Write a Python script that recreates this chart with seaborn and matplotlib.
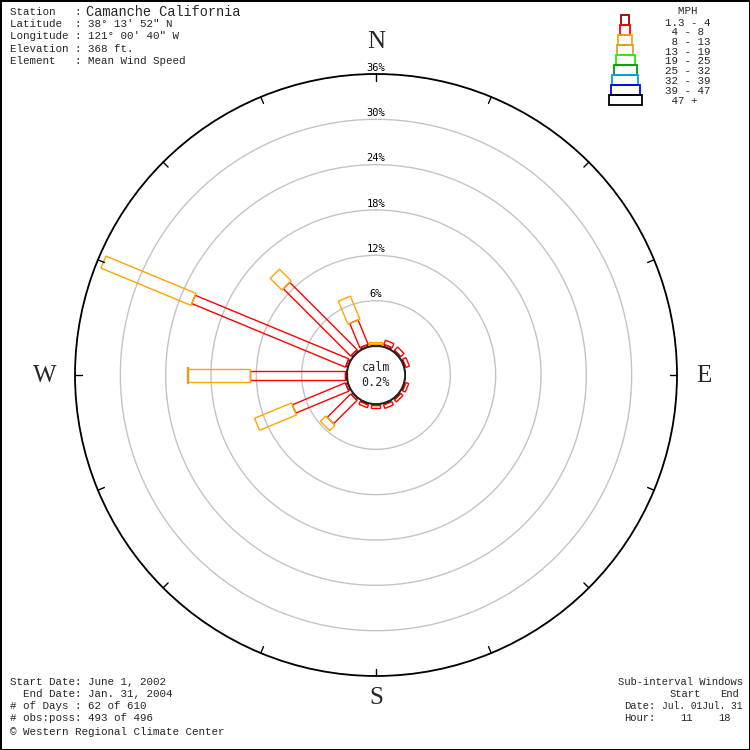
import numpy as np
import matplotlib
matplotlib.use("Agg")
import matplotlib.pyplot as plt
import seaborn as sns

# ---------------- data ----------------
directions = ['N', 'NNE', 'NE', 'ENE', 'E', 'ESE', 'SE', 'SSE',
              'S', 'SSW', 'SW', 'WSW', 'W', 'WNW', 'NW', 'NNW']
speed_bins = ['1.3 - 4', ' 4 - 8', ' 8 - 13', '13 - 19', '19 - 25',
              '25 - 32', '32 - 39', '39 - 47', ' 47 +']
# percent frequency per direction, one list per speed class
pct_1_4 = [0.1, 0.3, 0.2, 0.2, 0.0, 0.2, 0.2, 0.2, 0.1, 0.2, 0.3, 0.3, 0.3, 0.3, 0.3, 0.3]
pct_4_8 = [0.1, 0.6, 0.6, 0.5, 0.0, 0.4, 0.4, 0.5, 0.4, 0.4, 4.4, 7.6, 12.5, 22.0, 12.6, 3.5]
pct_8_13 = [0.3, 0.0, 0.0, 0.0, 0.0, 0.0, 0.0, 0.0, 0.0, 0.0, 1.0, 5.3, 8.2, 12.9, 2.2, 3.3]
pct_13_19 = [0.0] * 12 + [0.2, 0.0, 0.0, 0.0]
pct_19_25 = [0.0] * 16
pct_25_32 = [0.0] * 16
pct_32_39 = [0.0] * 16
pct_39_47 = [0.0] * 16
pct_47p = [0.0] * 16
calm_pct = 0.2
ring_ticks = [6, 12, 18, 24, 30, 36]

series = [pct_1_4, pct_4_8, pct_8_13, pct_13_19, pct_19_25,
          pct_25_32, pct_32_39, pct_39_47, pct_47p]

# ---------------- style ----------------
colors = ['#A00000', '#FF0000', '#FFA500', '#DAA520', '#22EE00',
          '#009E00', '#00A0F0', '#0000F0', '#000000']
bar_px = [7, 9, 13, 16, 19, 23, 26, 29, 33]       # bar widths in pixels
legend_px = [8, 10, 14, 16, 19, 23, 26, 29, 33]   # legend box widths

sns.set_theme(style='white')
plt.rcParams['font.family'] = ['DejaVu Sans Mono', 'DejaVu Sans']

W = H = 750
fig = plt.figure(figsize=(7.5, 7.5), dpi=100, facecolor='white',
                 edgecolor='black', linewidth=2)

cx, cy, R_out, R_calm = 376, 375, 301, 29
rmax = ring_ticks[-1]
a = R_calm * rmax / (R_out - R_calm)      # radial origin offset
scale = R_out / (rmax + a)                # pixels per data unit

ax = fig.add_axes([(cx - R_out) / W, (H - cy - R_out) / H, 2 * R_out / W, 2 * R_out / H],
                  projection='polar')
ax.set_theta_zero_location('N')
ax.set_theta_direction(-1)
ax.set_ylim(0, rmax)
ax.set_rorigin(-a)
ax.set_facecolor('white')
ax.set_yticks(ring_ticks)
ax.set_yticklabels([])
ax.set_xticks([])
ax.yaxis.grid(True, color='#C4C4C4', lw=1)
ax.xaxis.grid(False)
ax.spines['polar'].set_color('black')
ax.spines['polar'].set_linewidth(1.3)
if 'inner' in ax.spines:
    ax.spines['inner'].set_visible(False)

angles = np.deg2rad(np.arange(len(directions)) * 360.0 / len(directions))

# direction tick marks on the outer circle
for th in angles:
    ax.plot([th, th], [rmax - 7 / scale, rmax], color='black', lw=1, clip_on=False)

# calm circle
tt = np.linspace(0, 2 * np.pi, 361)
ax.plot(tt, np.zeros_like(tt), color='black', lw=1.5)


def rect_poly(phi, r1, r2, hw):
    th, rr = [], []
    for u, s in [(r1 + a, -1), (r2 + a, -1), (r2 + a, 1), (r1 + a, 1)]:
        rr.append(np.hypot(u, hw) - a)
        th.append(phi + s * np.arctan2(hw, u))
    return th, rr


# petals
for i, phi in enumerate(angles):
    base = 0.0
    for k, s in enumerate(series):
        v = s[i]
        if v <= 0:
            continue
        th, rr = rect_poly(phi, base, base + v, bar_px[k] / 2 / scale)
        ax.fill(th, rr, facecolor='none', edgecolor=colors[k], lw=1, clip_on=False)
        base += v

# ring labels
for t in ring_ticks:
    ax.annotate(f'{t}%', xy=(0, t), xytext=(0, 1), textcoords='offset points',
                ha='center', va='bottom', fontsize=7.5, color='black')

# ---------------- overlay for text and legend (pixel coordinates) ----------------
ov = fig.add_axes([0, 0, 1, 1], facecolor='none')
ov.set_xlim(0, W)
ov.set_ylim(H, 0)
ov.axis('off')

ov.text(cx, cy, f'calm\n{calm_pct}%', ha='center', va='center', fontsize=8.5,
        linespacing=1.2)

# compass letters
serif = ['Liberation Serif', 'DejaVu Serif']
ov.text(376, 42, 'N', ha='center', va='center', fontsize=18, family=serif)
ov.text(704, 376, 'E', ha='center', va='center', fontsize=18, family=serif)
ov.text(376, 698, 'S', ha='center', va='center', fontsize=18, family=serif)
ov.text(45, 376, 'W', ha='center', va='center', fontsize=18, family=serif)

# station header
mono = ['Liberation Mono', 'DejaVu Sans Mono']
ov.text(10, 12, 'Station   : ', ha='left', va='center', fontsize=7.8, family=mono)
ov.text(86, 12, 'Camanche California', ha='left', va='center', fontsize=9.8, family=mono)
header = ["Latitude  : 38° 13' 52\" N",
          "Longitude : 121° 00' 40\" W",
          "Elevation : 368 ft.",
          "Element   : Mean Wind Speed"]
for j, line in enumerate(header):
    ov.text(10, 24 + 12.3 * j, line, ha='left', va='center', fontsize=7.8, family=mono)

# bottom left
footer = ["Start Date: June 1, 2002",
          "  End Date: Jan. 31, 2004",
          "# of Days : 62 of 610",
          "# obs:poss: 493 of 496",
          "© Western Regional Climate Center"]
for j, line in enumerate(footer):
    ov.text(10, 682 + 12 * j + (2 if j == 4 else 0), line, ha='left', va='center',
            fontsize=7.8, family=mono)

# bottom right
ov.text(618, 682, "Sub-interval Windows", ha='left', va='center', fontsize=7.6, family=mono)
ov.text(670, 694, "Start", ha='left', va='center', fontsize=7.6, family=mono)
ov.text(720, 694, "End", ha='left', va='center', fontsize=7.6, family=mono)
ov.text(624, 706, "Date:", ha='left', va='center', fontsize=7.6, family=mono)
ov.text(662, 706, "Jul. 01Jul. 31", ha='left', va='center', fontsize=6.9, family=mono)
ov.text(624, 718, "Hour:", ha='left', va='center', fontsize=7.6, family=mono)
ov.text(680, 718, "11", ha='left', va='center', fontsize=7.6, family=mono)
ov.text(718, 718, "18", ha='left', va='center', fontsize=7.6, family=mono)

# legend
lx, ly0, lh = 625, 15, 10
for k in range(len(speed_bins)):
    ov.bar(lx, lh, width=legend_px[k], bottom=ly0 + lh * k, facecolor='none',
           edgecolor=colors[k], lw=1.3, align='center')
ov.text(665, 11, '  MPH', ha='left', va='center', fontsize=7.8, family=mono)
for k, lab in enumerate(speed_bins):
    ov.text(665, 22.5 + 9.75 * k, lab, ha='left', va='center', fontsize=7.8, family=mono)

fig.savefig('out.png', dpi=100, facecolor='white', edgecolor='black')
